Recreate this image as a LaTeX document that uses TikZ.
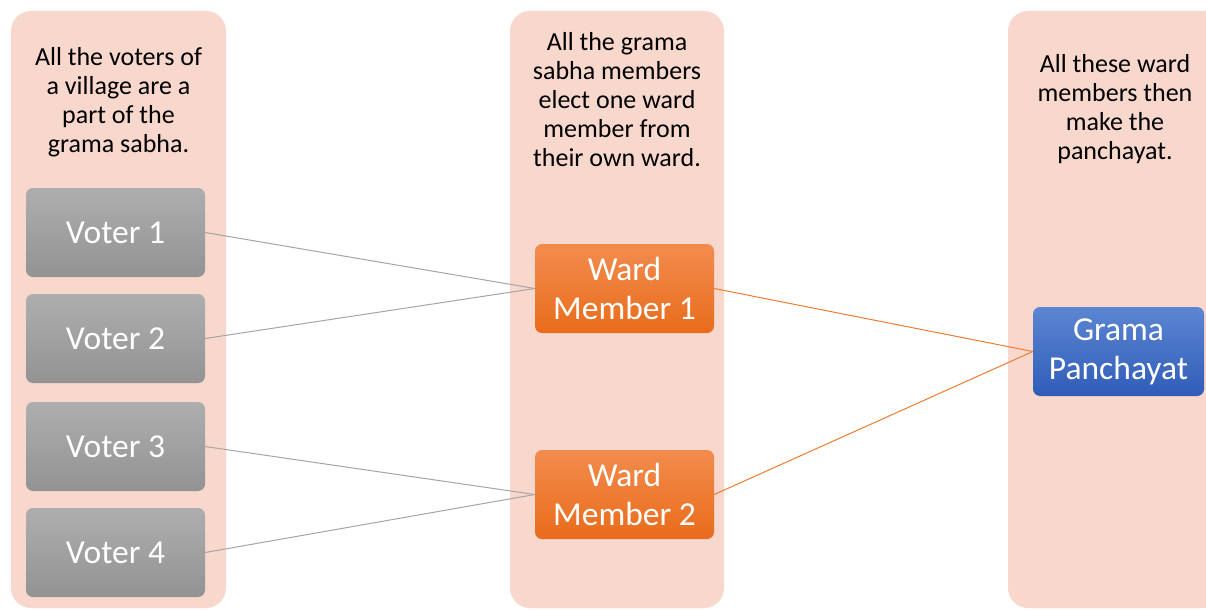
\documentclass[tikz,border=0pt]{standalone}
\usepackage{fontspec}
\setmainfont{Carlito}
\definecolor{colbg}{HTML}{F8D7CD}
\definecolor{greytop}{HTML}{AEAEAE}
\definecolor{greybot}{HTML}{939393}
\definecolor{orangetop}{HTML}{F28C4E}
\definecolor{orangebot}{HTML}{E96C1B}
\definecolor{bluetop}{HTML}{5C86D2}
\definecolor{bluebot}{HTML}{2F5CB8}
\definecolor{greyline}{HTML}{A5A5A5}
\definecolor{orangeline}{HTML}{ED7D31}
\begin{document}
\begin{tikzpicture}[x=1pt,y=-1pt,
  column/.style={fill=colbg,draw=none,rounded corners=20pt},
  coltext/.style={font=\fontsize{26}{29}\selectfont,align=center,inner sep=0pt,text=black},
  boxbase/.style={rounded corners=7pt,draw=none,text=white,align=center,inner sep=0pt,
     font=\fontsize{33.5}{39}\selectfont,minimum height=89pt},
  voterbox/.style={boxbase,top color=greytop,bottom color=greybot,minimum width=179pt},
  wardbox/.style={boxbase,top color=orangetop,bottom color=orangebot,minimum width=179pt},
  gramabox/.style={boxbase,top color=bluetop,bottom color=bluebot,minimum width=171pt},
  greyconn/.style={draw=greyline,line width=1pt},
  orangeconn/.style={draw=orangeline,line width=1pt}]
\useasboundingbox (0,0) rectangle (1206,610);
\fill[white] (0,0) rectangle (1206,610);
\begin{scope}
\clip (0,0) rectangle (1206,610);
\fill[column] (11,11) rectangle (226,608);
\fill[column] (510,11) rectangle (724,608);
\fill[column] (1008,11) rectangle (1223,608);
\end{scope}
\node[coltext] (t1) at (118.5,102) {All the voters of\\a village are a\\part of the\\grama sabha.};
\node[coltext] (t2) at (617,100) {All the grama\\sabha members\\elect one ward\\member from\\their own ward.};
\node[coltext] (t3) at (1115,109) {All these ward\\members then\\make the\\panchayat.};
\node[voterbox] (v1) at (115.5,232.5) {Voter 1};
\node[voterbox] (v2) at (115.5,338.5) {Voter 2};
\node[voterbox] (v3) at (115.5,446.5) {Voter 3};
\node[voterbox] (v4) at (115.5,552.5) {Voter 4};
\node[wardbox] (w1) at (624.5,288.5) {Ward\\Member 1};
\node[wardbox] (w2) at (624.5,494.5) {Ward\\Member 2};
\node[gramabox] (g) at (1118.5,351.5) {Grama\\Panchayat};
\draw[greyconn] (v1.east) -- (w1.west);
\draw[greyconn] (v2.east) -- (w1.west);
\draw[greyconn] (v3.east) -- (w2.west);
\draw[greyconn] (v4.east) -- (w2.west);
\draw[orangeconn] (w1.east) -- (g.west);
\draw[orangeconn] (w2.east) -- (g.west);
\end{tikzpicture}
\end{document}
